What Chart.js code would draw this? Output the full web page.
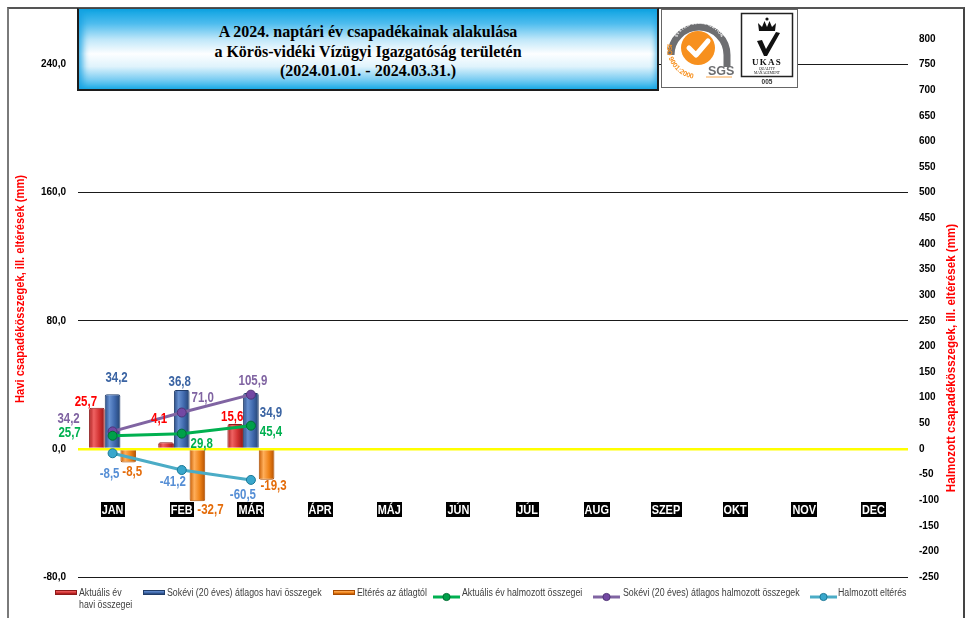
<!DOCTYPE html>
<html><head><meta charset="utf-8">
<script src="https://cdn.jsdelivr.net/npm/chart.js@4.4.1/dist/chart.umd.min.js"></script>
<style>
html,body{margin:0;padding:0;background:#fff;}
#wrap{position:relative;width:970px;height:618px;overflow:hidden;background:#fff;}
#frame{position:absolute;left:7px;top:7px;width:958px;height:640px;border:2px solid #7a7a7a;border-top-color:#555;border-right-color:#444;box-sizing:border-box;}
#cv{position:absolute;left:0;top:0;}
#title{position:absolute;left:77px;top:8px;width:582px;height:83px;box-sizing:border-box;border:2px solid #1c1c1c;border-top:1px solid #444;
 background:linear-gradient(to bottom,#0ea3e2 0%,#4dbcee 18%,#bfe7f9 38%,#fdfeff 56%,#dff3fc 72%,#7ccdf2 88%,#1eace7 100%);
 box-shadow:inset 7px 0 6px -3px rgba(20,160,225,0.8), inset -5px 0 5px -3px rgba(20,160,225,0.6);
 font:bold 16px "Liberation Serif","Times New Roman",serif;text-align:center;color:#000;padding-top:13px;line-height:19.5px;}
#logo{position:absolute;left:661px;top:9px;width:137px;height:79px;box-sizing:border-box;border:1.5px solid #666;background:#fff;}
#legend{position:absolute;left:0;top:0;width:970px;height:618px;pointer-events:none;}
.li{position:absolute;font:10px "Liberation Sans",Arial,sans-serif;color:#404040;white-space:pre;line-height:12px;transform:scaleX(0.88);transform-origin:0 0;}
.sw{position:absolute;}
</style></head>
<body>
<div id="wrap">
  <div id="frame"></div>
  <canvas id="cv" width="970" height="618"></canvas>
  <div id="title">A 2024. naptári év csapadékainak alakulása<br>a Körös-vidéki Vízügyi Igazgatóság területén<br>(2024.01.01. - 2024.03.31.)</div>
  <div id="logo">
    <svg width="134" height="76" viewBox="0 0 134 76" xmlns="http://www.w3.org/2000/svg">
      <path d="M 9 45 A 28 28 0 1 1 65 45 L 65 57" fill="none" stroke="#6d6e71" stroke-width="7"/>
      <path id="arcTop" d="M 12 39 A 25 25 0 0 1 62 39" fill="none"/>
      <text font-family="Liberation Sans,Arial" font-size="4" font-weight="bold" fill="#fff" letter-spacing="0.3">
        <textPath href="#arcTop" startOffset="50%" text-anchor="middle">SYSTEM CERTIFICATION</textPath></text>
      <circle cx="36" cy="38" r="17" fill="#f7901e"/>
      <path d="M 27 38 L 34 45 L 46 31" fill="none" stroke="#fff" stroke-width="5" stroke-linecap="round" stroke-linejoin="round"/>
      <path id="arcIso" d="M 5.3 34 A 31 31 0 0 0 41.4 68.5" fill="none"/>
      <text font-family="Liberation Sans,Arial" font-size="7" font-weight="bold" fill="#f7901e">
        <textPath href="#arcIso">ISO 9001:2000</textPath></text>
      <text x="46" y="65" font-family="Liberation Sans,Arial" font-size="12.5" font-weight="bold" fill="#6d6e71">SGS</text>
      <line x1="44" y1="67" x2="70" y2="67" stroke="#f7901e" stroke-width="0.8"/>
      <rect x="79.5" y="3.5" width="51" height="63" fill="#fff" stroke="#222" stroke-width="1.5"/>
      <path d="M 97 21 L 96 13 L 100 17 L 102.5 11 L 105 17 L 107.5 11 L 110 17 L 114 13 L 113 21 Z" fill="#111"/>
      <circle cx="105" cy="9" r="1.6" fill="#111"/>
      <path d="M 95 31 L 100 30 L 104 39 L 114 22 L 118 23 L 105 46 L 102 46 Z" fill="#111"/>
      <text x="105" y="55" text-anchor="middle" font-family="Liberation Serif,Times New Roman" font-size="9" font-weight="bold" fill="#111" letter-spacing="1.2">UKAS</text>
      <text x="105" y="59.5" text-anchor="middle" font-family="Liberation Serif,Times New Roman" font-size="3.6" fill="#111">QUALITY</text>
      <text x="105" y="63.5" text-anchor="middle" font-family="Liberation Serif,Times New Roman" font-size="3.6" fill="#111">MANAGEMENT</text>
      <text x="105" y="74" text-anchor="middle" font-family="Liberation Sans,Arial" font-size="6.5" font-weight="bold" fill="#333">005</text>
    </svg>
  </div>
  <div id="legend"></div>
</div>
<script>
// ---- data ----
const months = ['JAN','FEB','MÁR','ÁPR','MÁJ','JÚN','JÚL','AUG','SZEP','OKT','NOV','DEC'];
const actualMonthly = [25.7, 4.1, 15.6, null, null, null, null, null, null, null, null, null];
const avgMonthly    = [34.2, 36.8, 34.9, null, null, null, null, null, null, null, null, null];
const diffMonthly   = [-8.5, -32.7, -19.3, null, null, null, null, null, null, null, null, null];
const actualCum     = [25.7, 29.8, 45.4, null, null, null, null, null, null, null, null, null];
const avgCum        = [34.2, 71.0, 105.9, null, null, null, null, null, null, null, null, null];
const diffCum       = [-8.5, -41.2, -60.5, null, null, null, null, null, null, null, null, null];
const leftTicks  = [-80, 0, 80, 160, 240];
const rightTicks = [-250,-200,-150,-100,-50,0,50,100,150,200,250,300,350,400,450,500,550,600,650,700,750,800];
const seriesNames = ['Aktuális év\nhavi összegei','Sokévi (20 éves) átlagos havi összegek','Eltérés az átlagtól',
  'Aktuális év halmozott összegei','Sokévi (20 éves) átlagos halmozott összegek','Halmozott eltérés'];
const leftTitle = 'Havi csapadékösszegek, ill. eltérések (mm)';
const rightTitle = 'Halmozott csapadékösszegek, ill. eltérések (mm)';

// ---- styles ----
const FS = '"Liberation Sans",Arial,sans-serif';
const NARROW = 0.82;
const barGrad = [
  ['#a81c1c','#ef6262','#d23232','#941616'],
  ['#2a4b85','#6690d0','#3e67ab','#24426f'],
  ['#c55a00','#ffae5a','#ef8318','#b45000']
];
const barBorder = ['#8e1a1a','#213d6a','#a94c00'];
const labelStyle = [
  {color:'#ff0000', dx:[-11,-7,-3], dy:[-6,-23,-7]},
  {color:'#3b64a3', dx:[4,-2,20],  dy:[-16,-8,20]},
  {color:'#e46c0a', dx:[4,13,7],   dy:[10,9,6]},
  {color:'#00b050', dx:[-43,20,20], dy:[-3,11,6]},
  {color:'#8064a2', dx:[-44,21,2],  dy:[-12,-14,-14]},
  {color:'#558ed5', dx:[-3,-9,-8],  dy:[21,12,15]}
];
const legendPos = [
  {x:55,w:22,tx:79,type:'bar',i:0},{x:143,w:22,tx:167,type:'bar',i:1},{x:333,w:22,tx:357,type:'bar',i:2},
  {x:433,w:27,tx:462,type:'line',i:3},{x:593,w:27,tx:623,type:'line',i:4},{x:810,w:27,tx:838,type:'line',i:5}
];
const lineCol = [['#00b050','#00a04a','#006e33'],['#8064a2','#7348a3','#4f3276'],['#4bacc6','#39a7cc','#1b7896']];

const fmt1 = v => v.toFixed(1).replace('.', ',');

function textScaled(ctx, txt, x, y, sx, rot){
  ctx.save();
  ctx.translate(x, y);
  if(rot) ctx.rotate(rot);
  ctx.scale(sx, 1);
  ctx.fillText(txt, 0, 0);
  ctx.restore();
}

const barGradientPlugin = {
  id:'barGradient',
  afterDatasetsUpdate(chart){
    const ctx = chart.ctx;
    [0,1,2].forEach(di=>{
      const meta = chart.getDatasetMeta(di);
      meta.data.forEach(el=>{
        if(!el || el.x==null || isNaN(el.x) || el.width==null) return;
        const c = barGrad[di];
        const g = ctx.createLinearGradient(el.x - el.width/2, 0, el.x + el.width/2, 0);
        g.addColorStop(0, c[0]); g.addColorStop(0.3, c[1]); g.addColorStop(0.65, c[2]); g.addColorStop(1, c[3]);
        el.options = Object.assign({}, el.options, {backgroundColor:g});
      });
    });
  }
};

const labelsPlugin = {
  id:'valueLabels',
  afterDatasetsDraw(chart){
    const ctx = chart.ctx;
    ctx.save();
    ctx.font = 'bold 14px ' + FS;
    ctx.textAlign = 'center'; ctx.textBaseline = 'middle';
    chart.data.datasets.forEach((ds, di)=>{
      const st = labelStyle[di];
      const meta = chart.getDatasetMeta(di);
      ds.data.forEach((v, i)=>{
        if(v == null) return;
        const el = meta.data[i];
        ctx.fillStyle = st.color;
        textScaled(ctx, fmt1(v), el.x + (st.dx[i]||0), el.y + (st.dy[i]||0), NARROW);
      });
    });
    ctx.restore();
  },
  afterDraw(chart){
    const ctx = chart.ctx;
    const xs = chart.scales.x;
    ctx.save();
    ctx.font = 'bold 13px ' + FS;
    ctx.textAlign = 'center'; ctx.textBaseline = 'middle';
    months.forEach((m,i)=>{
      const x = xs.getPixelForValue(i);
      const w = ctx.measureText(m).width * 0.84 + 2;
      ctx.fillStyle = '#000';
      ctx.fillRect(Math.round(x - w/2), 502, Math.round(w), 15);
      ctx.fillStyle = '#fff';
      textScaled(ctx, m, x, 510, 0.84);
    });
    ctx.fillStyle = '#ff0000';
    ctx.font = 'bold 13px ' + FS;
    const lw = ctx.measureText(leftTitle).width;
    const sx = 228 / lw;
    textScaled(ctx, leftTitle, 20, 289, sx, -Math.PI/2);
    ctx.font = 'bold 13.5px ' + FS;
    textScaled(ctx, rightTitle, 951, 358, sx, -Math.PI/2);
    ctx.restore();
  }
};

const lineDs = (label, data, k) => ({
  type:'line', label, data, yAxisID:'y2', order:1,
  borderColor: lineCol[k][0], borderWidth:3, tension:0,
  pointRadius:4.5, pointBackgroundColor: lineCol[k][1], pointBorderColor: lineCol[k][2], pointBorderWidth:1
});
const barDs = (label, data, k) => ({
  type:'bar', label, data, yAxisID:'y', order:2,
  backgroundColor: barGrad[k][2], borderColor: barBorder[k], borderWidth:1, borderRadius:2,
  categoryPercentage:0.68, barPercentage:1.0
});

new Chart(document.getElementById('cv'), {
  type:'bar',
  data:{
    labels: months,
    datasets:[
      barDs(seriesNames[0], actualMonthly, 0),
      barDs(seriesNames[1], avgMonthly, 1),
      barDs(seriesNames[2], diffMonthly, 2),
      lineDs(seriesNames[3], actualCum, 0),
      lineDs(seriesNames[4], avgCum, 1),
      lineDs(seriesNames[5], diffCum, 2)
    ]
  },
  options:{
    responsive:false, animation:false,
    layout:{padding:{top:39,bottom:41,left:0,right:0}},
    plugins:{legend:{display:false}, tooltip:{enabled:false}},
    scales:{
      x:{display:false, offset:true, grid:{display:false}},
      y:{position:'left', min:-80, max:256,
         afterBuildTicks: s => { s.ticks = leftTicks.map(v=>({value:v})); },
         afterFit: s => { s.width = 78; },
         grid:{drawTicks:false, color: c => (c.tick && c.tick.value===0) ? '#ffff00' : '#1a1a1a',
               lineWidth: c => (c.tick && c.tick.value===0) ? 2.5 : 1},
         border:{display:false},
         ticks:{padding:12, color:'#000', font:{family:FS, size:10, weight:'bold'}, callback: v => fmt1(v)}},
      y2:{position:'right', min:-250, max:800,
         afterBuildTicks: s => { s.ticks = rightTicks.map(v=>({value:v})); },
         afterFit: s => { s.width = 62; },
         grid:{display:false, drawTicks:false}, border:{display:false},
         ticks:{padding:11, color:'#000', font:{family:FS, size:10, weight:'bold'}, callback: v => String(v)}}
    }
  },
  plugins:[barGradientPlugin, labelsPlugin]
});

// legend
const lg = document.getElementById('legend');
legendPos.forEach(p=>{
  const sw = document.createElement('div');
  sw.className = 'sw';
  if(p.type==='bar'){
    const c = barGrad[p.i];
    sw.style.cssText = `left:${p.x}px;top:590px;width:${p.w}px;height:5px;border:1px solid ${barBorder[p.i]};box-sizing:border-box;background:linear-gradient(to bottom,${c[1]},${c[2]} 60%,${c[3]});`;
  } else {
    const c = lineCol[p.i-3];
    sw.style.cssText = `left:${p.x}px;top:588px;width:${p.w}px;height:10px;`;
    sw.innerHTML = `<svg width="${p.w}" height="10"><line x1="0" y1="5" x2="${p.w}" y2="5" stroke="${c[0]}" stroke-width="3"/><circle cx="${p.w/2}" cy="5" r="3.6" fill="${c[1]}" stroke="${c[2]}" stroke-width="1"/></svg>`;
  }
  lg.appendChild(sw);
  const t = document.createElement('div');
  t.className = 'li';
  t.style.left = p.tx + 'px'; t.style.top = '587px';
  t.textContent = seriesNames[p.i];
  lg.appendChild(t);
});
</script>
</body></html>
